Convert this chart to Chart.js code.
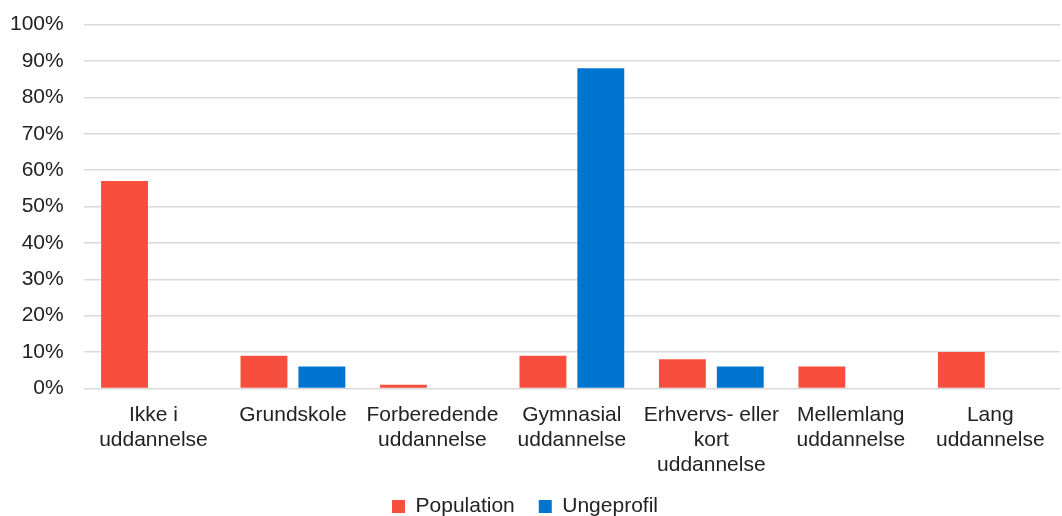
<!DOCTYPE html>
<html>
<head>
<meta charset="utf-8">
<script src="https://cdn.jsdelivr.net/npm/chart.js"></script>
<style>
  html, body { margin: 0; padding: 0; background: #fff; overflow: hidden; }
  #wrap { width: 1062px; height: 524px; margin-top: -8px; }
</style>
</head>
<body>
<div id="wrap"><canvas id="myChart"></canvas></div>
<script>
const categories = [
  ['Ikke i', 'uddannelse'],
  'Grundskole',
  ['Forberedende', 'uddannelse'],
  ['Gymnasial', 'uddannelse'],
  ['Erhvervs- eller', 'kort', 'uddannelse'],
  ['Mellemlang', 'uddannelse'],
  ['Lang', 'uddannelse']
]
const population = [57, 9, 1, 9, 8, 6, 10]
const ungeprofil = [0, 6, 0, 88, 6, 0, 0]

Chart.defaults.font.family = '"Liberation Sans", Arial, sans-serif'
Chart.defaults.font.size = 21
Chart.defaults.color = '#222'

const ctx = document.getElementById('myChart')

new Chart(ctx, {
  type: 'bar',
  data: {
    labels: categories,
    datasets: [{
      label: 'Population',
      data: population,
      backgroundColor: '#F84E3D'
    }, {
      label: 'Ungeprofil',
      data: ungeprofil,
      backgroundColor: '#0075CF'
    }]
  },
  options: {
    responsive: true,
    maintainAspectRatio: false,
    animation: false,
    categoryPercentage: 0.83,
    barPercentage: 0.81,
    layout: { padding: { left: -10, right: 2, top: 0, bottom: -11 } },
    plugins: {
      legend: {
        position: 'bottom',
        labels: { boxWidth: 13, boxHeight: 13, padding: 24 }
      },
      tooltip: { enabled: false }
    },
    scales: {
      x: {
        grid: { display: false },
        border: { display: false },
        ticks: { padding: 6, maxRotation: 0, autoSkip: false },
        afterFit: s => { s.height -= 12 }
      },
      y: {
        min: 0,
        max: 100,
        border: { display: false },
        grid: { color: '#d9d9d9', lineWidth: 1.5, drawTicks: false },
        ticks: {
          stepSize: 10,
          padding: 20,
          callback: v => v + '%'
        }
      }
    }
  }
})
</script>
</body>
</html>
